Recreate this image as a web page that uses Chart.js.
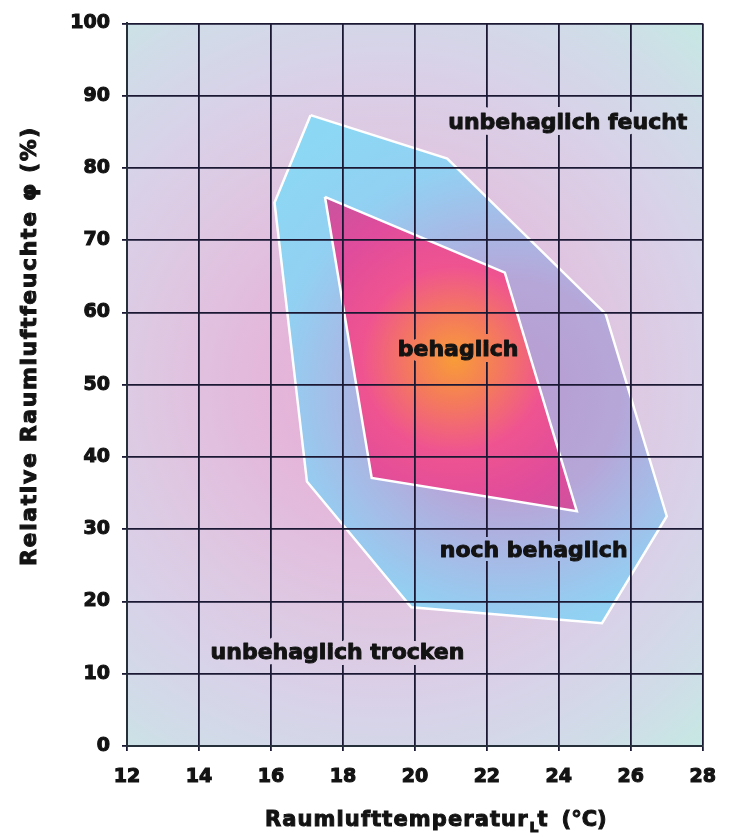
<!DOCTYPE html>
<html><head><meta charset="utf-8">
<script src="https://cdn.jsdelivr.net/npm/chart.js@4.4.1/dist/chart.umd.min.js"></script>
<style>html,body{margin:0;padding:0;background:#fff;}#wrap{width:731px;height:837px;}</style>
</head><body><div id="wrap"><canvas id="c" width="731" height="837"></canvas></div>
<script>
// ---- data ----
const outerTemp = [17.1, 20.9, 25.3, 27.0, 25.2, 19.9, 17.0, 16.1, 17.1];
const outerHumidity = [87.3, 81.3, 59.8, 31.8, 17.0, 19.2, 36.6, 75.2, 87.3];
const innerTemp = [17.5, 22.5, 24.5, 18.8, 17.5];
const innerHumidity = [76.0, 65.5, 32.5, 37.1, 76.0];
const zoneLabels = ["unbehaglich feucht", "behaglich", "noch behaglich", "unbehaglich trocken"];
const zoneLabelTemp = [24.25, 21.2, 23.3, 17.85];
const zoneLabelHumidity = [86.2, 54.8, 26.9, 12.9];
const zoneHalo = ["bg", "inner", "outer", "bg"];
const xTitle = ["Raumlufttemperatur", "L", "t", "(°C)"];
const yTitle = "Relative Raumluftfeuchte φ (%)";

const FONT = "'DejaVu Sans', 'Liberation Sans', sans-serif";
const INK = '#131313';
const pts = (xs, ys) => xs.map((x, i) => ({x, y: ys[i]}));

function px(ch, x, y) { return [ch.scales.x.getPixelForValue(x), ch.scales.y.getPixelForValue(y)]; }

function bgGrad(ch) {
  const a = ch.chartArea; const ctx = ch.ctx;
  const [cx, cy] = px(ch, 19.2, 50);
  const r = Math.hypot(a.right - cx, a.bottom - cy);
  const g = ctx.createRadialGradient(cx, cy, 0, cx, cy, r);
  g.addColorStop(0, '#e8a8d4');
  g.addColorStop(0.3, '#e3badc');
  g.addColorStop(0.5, '#dec8e2');
  g.addColorStop(0.68, '#d8d2e8');
  g.addColorStop(0.85, '#d0dce8');
  g.addColorStop(1, '#c6e8e3');
  return g;
}
function outerGrad(ch) {
  const ctx = ch.ctx;
  const [cx, cy] = px(ch, 22.6, 49);
  const g = ctx.createRadialGradient(cx, cy, 0, cx, cy, 320);
  g.addColorStop(0, '#b89cd0');
  g.addColorStop(0.35, '#b6a6d8');
  g.addColorStop(0.55, '#a4bde8');
  g.addColorStop(0.72, '#92d0f2');
  g.addColorStop(1, '#8cd8f4');
  return g;
}
function innerGrad(ch) {
  const ctx = ch.ctx;
  const [cx, cy] = px(ch, 21.1, 53.5);
  const g = ctx.createRadialGradient(cx, cy, 0, cx, cy, 220);
  g.addColorStop(0, '#f89c38');
  g.addColorStop(0.2, '#f47a5c');
  g.addColorStop(0.42, '#ef5490');
  g.addColorStop(0.68, '#e04c9c');
  g.addColorStop(1, '#c2569f');
  return g;
}

const bgPlugin = {
  id: 'bg',
  beforeDraw(ch) {
    const a = ch.chartArea, ctx = ch.ctx;
    ctx.save();
    ctx.fillStyle = bgGrad(ch);
    ctx.fillRect(a.left, a.top, a.right - a.left, a.bottom - a.top);
    ctx.restore();
  }
};

function heavyText(ctx, t, x, y) {
  ctx.fillStyle = INK;
  ctx.strokeStyle = INK;
  ctx.lineWidth = 1;
  ctx.fillText(t, x, y);
  ctx.strokeText(t, x, y);
}

const textPlugin = {
  id: 'texts',
  afterDraw(ch) {
    const ctx = ch.ctx;
    ctx.save();
    ctx.font = "bold 22px " + FONT;
    ctx.textAlign = 'center';
    ctx.textBaseline = 'middle';
    ctx.lineJoin = 'round';
    zoneLabels.forEach((t, i) => {
      const [x, y] = px(ch, zoneLabelTemp[i], zoneLabelHumidity[i]);
      const h = zoneHalo[i];
      ctx.strokeStyle = h === 'bg' ? bgGrad(ch) : h === 'inner' ? innerGrad(ch) : outerGrad(ch);
      ctx.lineWidth = h === 'outer' ? 8 : 12;
      ctx.strokeText(t, x, y);
      heavyText(ctx, t, x, y);
    });
    ctx.restore();

    // y title
    ctx.save();
    ctx.translate(30, 346);
    ctx.rotate(-Math.PI / 2);
    ctx.font = "bold 22px " + FONT;
    ctx.letterSpacing = '1.6px';
    ctx.textAlign = 'center';
    ctx.textBaseline = 'middle';
    heavyText(ctx, yTitle, 0, 0);
    ctx.restore();

    // x title with subscript
    ctx.save();
    ctx.textBaseline = 'alphabetic';
    ctx.textAlign = 'left';
    ctx.font = "bold 21px " + FONT;
    ctx.letterSpacing = '1.1px';
    let xx = 265;
    const base = 826;
    heavyText(ctx, xTitle[0], xx, base); xx += ctx.measureText(xTitle[0]).width + 1;
    ctx.font = "bold 14px " + FONT;
    ctx.letterSpacing = '0px';
    heavyText(ctx, xTitle[1], xx, base + 6); xx += ctx.measureText(xTitle[1]).width - 1;
    ctx.font = "bold 21px " + FONT;
    heavyText(ctx, xTitle[2], xx, base); xx += ctx.measureText(xTitle[2]).width + 14;
    heavyText(ctx, xTitle[3], xx, base);
    ctx.restore();
  }
};

const gridColor = '#1b1834';
const tickFont = { family: FONT, weight: 'bold', size: 19 };
new Chart(document.getElementById('c'), {
  type: 'scatter',
  data: {
    datasets: [
      { label: 'behaglich', data: pts(innerTemp, innerHumidity), showLine: true, fill: 'shape',
        backgroundColor: c => c.chart.chartArea ? innerGrad(c.chart) : 'transparent',
        borderColor: '#ffffff', borderWidth: 2.5, pointRadius: 0, tension: 0, order: 0 },
      { label: 'noch behaglich', data: pts(outerTemp, outerHumidity), showLine: true, fill: 'shape',
        backgroundColor: c => c.chart.chartArea ? outerGrad(c.chart) : 'transparent',
        borderColor: '#ffffff', borderWidth: 2.5, pointRadius: 0, tension: 0, order: 1 }
    ]
  },
  options: {
    responsive: false,
    animation: false,
    events: [],
    layout: { padding: { top: 20, right: 19, left: 0, bottom: 0 } },
    plugins: { legend: { display: false }, tooltip: { enabled: false } },
    scales: {
      x: {
        type: 'linear', min: 12, max: 28,
        ticks: { stepSize: 2, color: INK, padding: 15, font: tickFont, textStrokeColor: INK, textStrokeWidth: 1.1 },
        grid: { color: gridColor, lineWidth: 1.8, tickLength: 5, tickColor: gridColor, z: 1 },
        border: { display: true, color: '#26303a', width: 2, z: 2 },
        afterFit: s => { s.height = 91; }
      },
      y: {
        type: 'linear', min: 0, max: 100,
        ticks: { stepSize: 10, color: INK, padding: 12, font: tickFont, textStrokeColor: INK, textStrokeWidth: 1.1 },
        grid: { color: gridColor, lineWidth: 1.8, tickLength: 5, tickColor: gridColor, z: 1 },
        border: { display: true, color: '#26303a', width: 2, z: 2 },
        afterFit: s => { s.width = 127; }
      }
    }
  },
  plugins: [bgPlugin, textPlugin]
});
</script></body></html>
